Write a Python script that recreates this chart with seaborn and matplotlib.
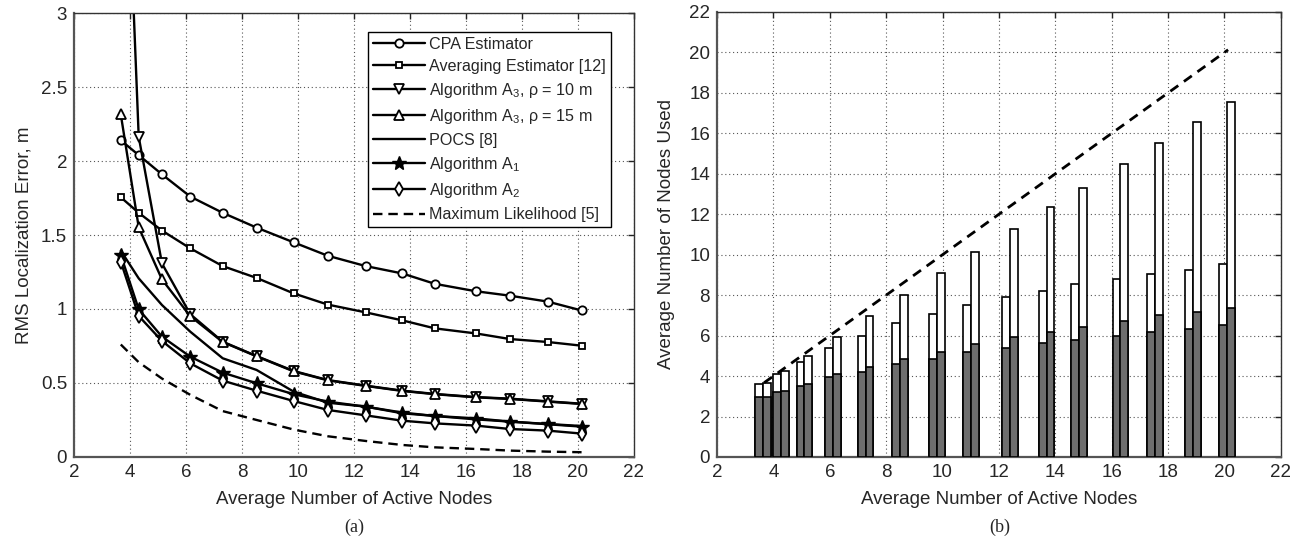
import matplotlib
matplotlib.use('Agg')
import numpy as np
import pandas as pd
import seaborn as sns
import matplotlib.pyplot as plt

sns.set_style('white')
plt.rcParams['font.family'] = ['Liberation Sans', 'DejaVu Sans']
plt.rcParams['mathtext.fontset'] = 'custom'
plt.rcParams['mathtext.rm'] = 'Liberation Sans'
plt.rcParams['mathtext.it'] = 'Liberation Sans:italic'

# average number of active nodes (x for both panels)
nodes = [3.67, 4.31, 5.14, 6.15, 7.31, 8.52, 9.85, 11.06, 12.42, 13.73, 14.89, 16.35, 17.57, 18.92, 20.13]

# (a) RMS localization error, m
cpa = [2.14, 2.04, 1.91, 1.76, 1.65, 1.55, 1.45, 1.36, 1.29, 1.24, 1.17, 1.12, 1.09, 1.05, 0.99]
averaging = [1.755, 1.65, 1.53, 1.41, 1.29, 1.21, 1.105, 1.03, 0.977, 0.923, 0.869, 0.835, 0.797, 0.777, 0.752]
a3_rho10 = [5.2, 2.164, 1.308, 0.965, 0.779, 0.682, 0.581, 0.52, 0.482, 0.448, 0.426, 0.405, 0.394, 0.376, 0.36]
a3_rho15 = [2.315, 1.552, 1.2, 0.952, 0.777, 0.68, 0.578, 0.518, 0.48, 0.446, 0.424, 0.403, 0.392, 0.374, 0.358]
pocs = [1.394, 1.207, 1.027, 0.847, 0.667, 0.588, 0.441, 0.367, 0.34, 0.295, 0.277, 0.261, 0.239, 0.223, 0.209]
alg_a1 = [1.365, 0.998, 0.813, 0.678, 0.57, 0.498, 0.424, 0.374, 0.34, 0.3, 0.277, 0.254, 0.239, 0.221, 0.205]
alg_a2 = [1.32, 0.953, 0.784, 0.633, 0.516, 0.448, 0.378, 0.318, 0.281, 0.245, 0.227, 0.212, 0.189, 0.178, 0.158]
max_lik = [0.76, 0.64, 0.53, 0.42, 0.31, 0.25, 0.185, 0.14, 0.108, 0.081, 0.065, 0.054, 0.043, 0.036, 0.032]

# (b) average number of nodes used: bar totals and dark (lower) part
left_total = [3.59, 4.1, 4.71, 5.37, 5.96, 6.6, 7.08, 7.52, 7.89, 8.21, 8.53, 8.79, 9.04, 9.25, 9.56]
left_dark = [2.96, 3.21, 3.52, 3.93, 4.21, 4.58, 4.84, 5.17, 5.4, 5.61, 5.78, 5.99, 6.2, 6.34, 6.5]
right_total = [3.64, 4.25, 5.0, 5.93, 6.95, 8.0, 9.1, 10.14, 11.26, 12.35, 13.32, 14.48, 15.5, 16.58, 17.57]
right_dark = [2.96, 3.26, 3.59, 4.08, 4.44, 4.84, 5.2, 5.58, 5.91, 6.2, 6.42, 6.72, 7.0, 7.18, 7.37]

fig = plt.figure(figsize=(12.99, 5.44), dpi=100)
ax1 = fig.add_axes([0.057, 0.160, 0.431, 0.816])
ax2 = fig.add_axes([0.552, 0.160, 0.434, 0.818])

grid_kw = dict(color='#555555', linestyle=(0, (1, 2.5)), linewidth=0.8)
fs = 13.5

def style_axes(ax):
    ax.grid(True, **grid_kw)
    ax.set_axisbelow(True)
    ax.tick_params(direction='in', top=True, right=True, length=4, width=1,
                   labelsize=fs, color='#222222', pad=5)
    for side in ['top', 'right']:
        ax.spines[side].set_linewidth(1)
        ax.spines[side].set_color('#333333')
    for side in ['left', 'bottom']:
        ax.spines[side].set_linewidth(1.6)
        ax.spines[side].set_color('#555555')

# ---------- (a) ----------
lw = 1.7
base = dict(color='k', lw=lw, mec='k', mfc='white', mew=1.3)
sns.lineplot(x=nodes, y=cpa, ax=ax1, marker='o', ms=6, label='CPA Estimator', **base)
sns.lineplot(x=nodes, y=averaging, ax=ax1, marker='s', ms=5, label='Averaging Estimator [12]', **base)
sns.lineplot(x=nodes, y=a3_rho10, ax=ax1, marker='v', ms=7.5,
             label='Algorithm A$_3$, ρ = 10 m', **base)
sns.lineplot(x=nodes, y=a3_rho15, ax=ax1, marker='^', ms=7.5,
             label='Algorithm A$_3$, ρ = 15 m', **base)
sns.lineplot(x=nodes, y=pocs, ax=ax1, color='k', lw=lw, label='POCS [8]')
sns.lineplot(x=nodes, y=alg_a1, ax=ax1, marker='*', ms=10, label='Algorithm A$_1$',
             color='k', lw=lw, mec='k', mfc='k', mew=1)
sns.lineplot(x=nodes, y=alg_a2, ax=ax1, marker='d', ms=7, label='Algorithm A$_2$', **base)
sns.lineplot(x=nodes, y=max_lik, ax=ax1, color='k', lw=lw, linestyle=(0, (4, 2.5)),
             label='Maximum Likelihood [5]')

ax1.set_xlim(2, 22)
ax1.set_ylim(0, 3)
ax1.set_xticks(np.arange(2, 23, 2))
ax1.set_yticks([0, 0.5, 1, 1.5, 2, 2.5, 3])
ax1.set_yticklabels(['0', '0.5', '1', '1.5', '2', '2.5', '3'])
style_axes(ax1)
ax1.set_xlabel('Average Number of Active Nodes', fontsize=fs, labelpad=7)
ax1.set_ylabel('RMS Localization Error, m', fontsize=fs, labelpad=6)
leg = ax1.legend(loc='upper right', bbox_to_anchor=(0.959, 0.958), fontsize=11.6,
                 frameon=True, fancybox=False, framealpha=1, edgecolor='k',
                 handlelength=3.2, handletextpad=0.3, labelspacing=0.44,
                 borderpad=0.3, borderaxespad=0)
leg.get_frame().set_linewidth(1)

# ---------- (b) ----------
bw = 0.28
xl = np.array(nodes) - bw / 2 - 0.04
xr = np.array(nodes) + bw / 2 - 0.04
dark = '#6e6e6e'
ax2.bar(xl, left_total, width=bw, color='white', edgecolor='k', linewidth=1.2, zorder=2)
ax2.bar(xl, left_dark, width=bw, color=dark, edgecolor='k', linewidth=1.2, zorder=3)
ax2.bar(xr, right_total, width=bw, color='white', edgecolor='k', linewidth=1.2, zorder=2)
ax2.bar(xr, right_dark, width=bw, color=dark, edgecolor='k', linewidth=1.2, zorder=3)
sns.lineplot(x=nodes, y=nodes, ax=ax2, color='k', lw=2, linestyle=(0, (3.5, 2.5)), zorder=4)

ax2.set_xlim(2, 22)
ax2.set_ylim(0, 22)
ax2.set_xticks(np.arange(2, 23, 2))
ax2.set_yticks(np.arange(0, 23, 2))
style_axes(ax2)
ax2.set_xlabel('Average Number of Active Nodes', fontsize=fs, labelpad=7)
ax2.set_ylabel('Average Number of Nodes Used', fontsize=fs, labelpad=10)

fig.text(0.273, 0.03, '(a)', fontsize=13, family='Liberation Serif', ha='center', va='center')
fig.text(0.770, 0.03, '(b)', fontsize=13, family='Liberation Serif', ha='center', va='center')

fig.savefig('out.png', dpi=100)
